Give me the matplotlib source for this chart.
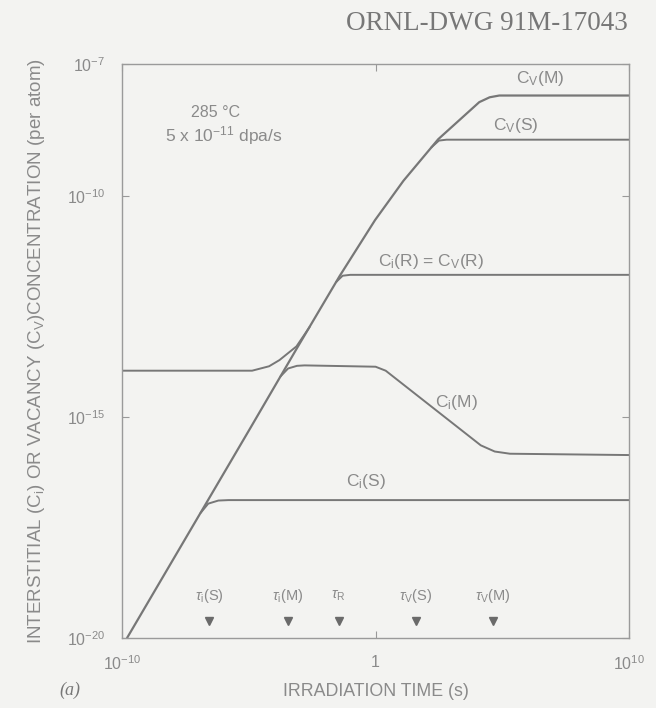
import numpy as np
import matplotlib
matplotlib.use("Agg")
import matplotlib.pyplot as plt

plt.rcParams['font.family'] = ['Liberation Sans', 'DejaVu Sans']
plt.rcParams['mathtext.fontset'] = 'custom'
plt.rcParams['mathtext.rm'] = 'Liberation Sans'
plt.rcParams['mathtext.it'] = 'Liberation Sans:italic'
plt.rcParams['mathtext.bf'] = 'Liberation Sans:bold'

# ---- data (log10 values) ----
rise_logt = [-9.8, -4.93, -3.11, -1.42, -0.02, 1.10, 2.47, 4.09, 4.5, 4.88, 10]
rise_logc = [-20.0, -15.24, -13.45, -11.81, -10.54, -9.65, -8.71, -7.87, -7.76, -7.72, -7.72]

cvs_logt = [2.2, 2.5, 2.8, 10]
cvs_logc = [-8.895, -8.74, -8.72, -8.72]

cir_logt = [-1.55, -1.3, -1.0, 10]
cir_logc = [-11.94, -11.8, -11.78, -11.78]

cim_logt = [-3.75, -3.45, -3.1, -2.8, 0.0, 0.4, 4.15, 4.7, 5.3, 10]
cim_logc = [-14.08, -13.9, -13.84, -13.83, -13.86, -13.95, -15.64, -15.78, -15.83, -15.86]

cve_logt = [-10, -4.87, -4.2, -3.79, -3.12, -2.6]
cve_logc = [-13.95, -13.95, -13.85, -13.71, -13.4, -12.96]

cis_logt = [-6.9, -6.6, -6.2, -5.8, 10]
cis_logc = [-17.17, -16.96, -16.89, -16.88, -16.88]

marker_labels = [r"$\tau_\mathrm{i}$(S)", r"$\tau_\mathrm{i}$(M)", r"$\tau_\mathrm{R}$",
                 r"$\tau_\mathrm{V}$(S)", r"$\tau_\mathrm{V}$(M)"]
marker_logt = [-6.55, -3.47, -1.46, 1.58, 4.62]

curve_labels = [r"C$_\mathrm{V}$(M)", r"C$_\mathrm{V}$(S)", r"C$_\mathrm{i}$(R) = C$_\mathrm{V}$(R)",
                r"C$_\mathrm{i}$(M)", r"C$_\mathrm{i}$(S)"]
curve_label_logt = [6.5, 5.54, 2.19, 3.18, -0.37]
curve_label_logc = [-7.33, -8.39, -11.47, -14.66, -16.47]

xticks = [1e-10, 1, 1e10]
xticklabels = [r"$10^{-10}$", "1", r"$10^{10}$"]
yticks = [1e-20, 1e-15, 1e-10, 1e-7]
yticklabels = [r"$10^{-20}$", r"$10^{-15}$", r"$10^{-10}$", r"$10^{-7}$"]

# ---- drawing ----
bg = "#f3f3f1"
lc = "#777777"
tc = "#8a8a8a"
fig = plt.figure(figsize=(6.56, 7.08), dpi=100, facecolor=bg)
ax = fig.add_axes([0.186, 0.099, 0.773, 0.811], facecolor=bg)
ax.set_xscale("log")
ax.set_yscale("log")
ax.set_xlim(1e-10, 1e10)
ax.set_ylim(1e-20, 1e-7)

def p(lt, lcv):
    return 10.0 ** np.array(lt), 10.0 ** np.array(lcv)

for lt, lcv, w in [(rise_logt, rise_logc, 1.6), (cvs_logt, cvs_logc, 1.4),
                   (cir_logt, cir_logc, 1.4), (cim_logt, cim_logc, 1.4),
                   (cve_logt, cve_logc, 1.4), (cis_logt, cis_logc, 1.4)]:
    x, y = p(lt, lcv)
    ax.plot(x, y, color=lc, lw=w, solid_capstyle="round", solid_joinstyle="round")

mt = 10.0 ** np.array(marker_logt)
ax.plot(mt, [10 ** -19.62] * len(mt), linestyle="none", marker="v", ms=6, color="#6a6a6a")
for t, lab in zip(mt, marker_labels):
    ax.text(t, 10 ** -19.05, lab, ha="center", va="center", fontsize=10.5, color=tc)

for lab, lt, lcv in zip(curve_labels, curve_label_logt, curve_label_logc):
    ax.text(10 ** lt, 10 ** lcv, lab, ha="center", va="center", fontsize=12.5, color=tc)

ax.text(10 ** -6.3, 10 ** -8.1, "285 °C", ha="center", va="center", fontsize=11.5, color=tc)
ax.text(10 ** -5.98, 10 ** -8.62, r"5 x 10$^{-11}$ dpa/s", ha="center", va="center", fontsize=12.5, color=tc)

ax.set_xticks(xticks)
ax.set_xticklabels(xticklabels)
ax.set_yticks(yticks)
ax.set_yticklabels(yticklabels)
ax.minorticks_off()
ax.tick_params(direction="in", length=5, width=0.8, colors="#999999", labelcolor=tc,
               labelsize=11.5, top=True, right=True, pad=12)
for s in ax.spines.values():
    s.set_color("#9a9a9a")
    s.set_linewidth(1.0)

ax.set_xlabel("IRRADIATION TIME (s)", fontsize=12.8, color=tc, labelpad=7)
ax.set_ylabel(r"INTERSTITIAL (C$_\mathrm{i}$) OR VACANCY (C$_\mathrm{V}$)CONCENTRATION (per atom)",
              fontsize=13.5, color=tc, labelpad=14)

fig.text(0.742, 0.967, "ORNL-DWG 91M-17043", ha="center", va="center",
         fontsize=19.5, color="#777777", family="Liberation Serif")
fig.text(0.09, 0.025, "(a)", ha="left", va="center", fontsize=13, color="#777777",
         family="Liberation Serif", style="italic")

fig.savefig("out.png", dpi=100, facecolor=bg)
